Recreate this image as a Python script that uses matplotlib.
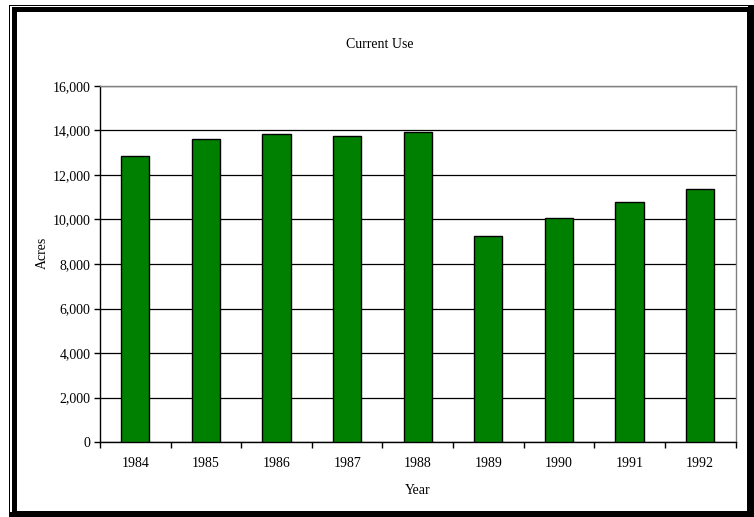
import matplotlib.pyplot as plt
from matplotlib.patches import Rectangle
from matplotlib.ticker import FuncFormatter, FixedLocator

# acres in current use, by year
years = ["1984", "1985", "1986", "1987", "1988", "1989", "1990", "1991", "1992"]
acres = [12840, 13630, 13830, 13740, 13920, 9260, 10050, 10790, 11380]

plt.rcParams['font.family'] = ['Liberation Serif', 'DejaVu Serif']
plt.rcParams['font.size'] = 10

W, H = 754, 517
fig = plt.figure(figsize=(W / 100, H / 100), dpi=100)


def px_rect(x0, y0, x1, y1, color):
    # rectangle in pixel coords measured from the top-left corner
    fig.patches.append(Rectangle((x0 / W, 1 - y1 / H), (x1 - x0) / W, (y1 - y0) / H,
                                 transform=fig.transFigure, facecolor=color,
                                 edgecolor='none', zorder=-10))


# double frame with a heavier shadow on the right and bottom
px_rect(9, 5, W, H, 'black')
px_rect(10, 6, 748, 512, 'white')
px_rect(12, 7, 748, 512, 'black')
px_rect(17, 12, 747, 511, 'white')

ax = fig.add_axes([100 / W, 1 - 442 / H, 635.5 / W, 356 / H])
x = range(len(years))
ax.bar(x, acres, width=0.4, color='#008000', edgecolor='black', linewidth=1, zorder=3)

ax.set_xlim(-0.5, len(years) - 0.5)
ax.set_ylim(0, 16000)
ax.set_yticks(range(0, 16001, 2000))
ax.yaxis.set_major_formatter(FuncFormatter(lambda v, p: f"{int(v):,}"))
ax.grid(axis='y', color='black', linewidth=0.9, zorder=1)

# ticks sit between categories, labels at the centres
ax.xaxis.set_major_locator(FixedLocator([i - 0.5 for i in range(len(years) + 1)]))
ax.xaxis.set_minor_locator(FixedLocator(list(x)))
ax.set_xticklabels([])
ax.set_xticklabels(years, minor=True)
ax.tick_params(axis='x', which='major', direction='out', length=4, width=1)
ax.tick_params(axis='x', which='minor', length=0, pad=11)
ax.tick_params(axis='y', direction='out', length=4, width=1, pad=3)

for side in ('left', 'bottom'):
    ax.spines[side].set_color('black')
    ax.spines[side].set_linewidth(1)
for side in ('top', 'right'):
    ax.spines[side].set_color('#808080')
    ax.spines[side].set_linewidth(1)

fig.text(380 / W, 1 - 44 / H, "Current Use", ha='center', va='center')
fig.text(418 / W, 1 - 490 / H, "Year", ha='center', va='center')
fig.text(42 / W, 1 - 253 / H, "Acres", ha='center', va='center', rotation=90)

fig.savefig("out.png", dpi=100)
